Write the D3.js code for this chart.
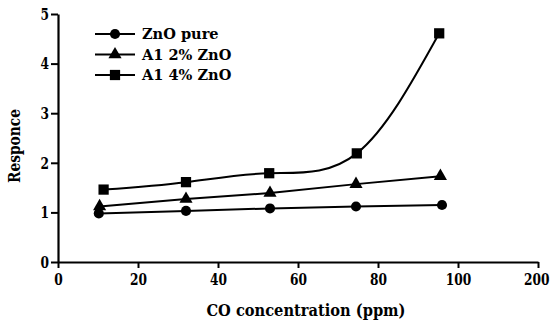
<!DOCTYPE html>
<html>
<head>
<meta charset="utf-8">
<script src="https://cdn.jsdelivr.net/npm/d3@7"></script>
<style>
  body { margin: 0; background: #fff; }
</style>
</head>
<body>
<svg id="chart" width="552" height="324"></svg>
<script>
// x positions: the last tick is labelled 200 but sits one step after 100 (broken axis)
var xTicks = [0, 20, 40, 60, 80, 100, 120];
var xTickLabels = ["0", "20", "40", "60", "80", "100", "200"];
var yTicks = [0, 1, 2, 3, 4, 5];

var seriesNames = ["ZnO pure", "A1 2% ZnO", "A1 4% ZnO"];
var concPure = [10.2, 32, 53, 74.5, 96];
var respPure = [0.98, 1.03, 1.08, 1.12, 1.15];
var concAl2 = [10.4, 32, 53, 74.5, 95.6];
var respAl2 = [1.12, 1.27, 1.39, 1.57, 1.73];
var concAl4 = [11.4, 32, 52.8, 74.7, 95.3];
var respAl4 = [1.46, 1.61, 1.79, 2.19, 4.61];

// DejaVu Serif is wider than the Times face of the original, so text gets squeezed a bit
var font = "'DejaVu Serif', serif";

function fitText(sel, ratio) {
  sel.each(function () {
    var w = this.getComputedTextLength();
    d3.select(this).attr("textLength", w * ratio).attr("lengthAdjust", "spacingAndGlyphs");
  });
}

var svg = d3.select("#chart");

var margin = { left: 58, top: 14, right: 14, bottom: 62 };
var width = 552 - margin.left - margin.right,
  height = 324 - margin.top - margin.bottom;

var x = d3.scaleLinear().domain([0, 120]).range([0, width]);
var y = d3.scaleLinear().domain([0, 5]).range([height, 0]);

var g = svg.append("g")
  .attr("transform", "translate(" + margin.left + "," + margin.top + ")");

var xAxis = g.append("g")
  .attr("transform", "translate(0," + height + ")")
  .call(d3.axisBottom(x).tickValues(xTicks)
    .tickFormat(function (d, i) { return xTickLabels[i]; })
    .tickSize(6).tickPadding(5).tickSizeOuter(0));

var yAxis = g.append("g")
  .call(d3.axisLeft(y).tickValues(yTicks).tickFormat(d3.format("d"))
    .tickSize(7).tickPadding(2).tickSizeOuter(0));

[xAxis, yAxis].forEach(function (a) {
  a.attr("font-family", font).attr("font-size", 16.5).attr("font-weight", "bold");
  a.select(".domain").attr("stroke", "#000").attr("stroke-width", 2.2);
  a.selectAll(".tick line").attr("stroke", "#000").attr("stroke-width", 2);
  a.selectAll(".tick text").attr("fill", "#000").call(fitText, 0.74);
});
// keep the last label inside the picture
xAxis.selectAll(".tick text").filter(function (d) { return d === 120; })
  .attr("text-anchor", "end").attr("x", 11);

var series = [
  { name: seriesNames[0], xs: concPure, ys: respPure, shape: d3.symbolCircle, size: 80, curve: d3.curveLinear },
  { name: seriesNames[1], xs: concAl2, ys: respAl2, shape: d3.symbolTriangle, size: 75, curve: d3.curveLinear },
  { name: seriesNames[2], xs: concAl4, ys: respAl4, shape: d3.symbolSquare, size: 105, curve: d3.curveNatural }
];

series.forEach(function (s) {
  var pts = s.xs.map(function (v, i) { return [v, s.ys[i]]; });
  var line = d3.line()
    .x(function (d) { return x(d[0]); })
    .y(function (d) { return y(d[1]); })
    .curve(s.curve);
  g.append("path")
    .datum(pts)
    .attr("d", line)
    .attr("fill", "none")
    .attr("stroke", "#000")
    .attr("stroke-width", 2);
  g.selectAll(null)
    .data(pts)
    .enter().append("path")
    .attr("d", d3.symbol().type(s.shape).size(s.size))
    .attr("transform", function (d) { return "translate(" + x(d[0]) + "," + y(d[1]) + ")"; })
    .attr("fill", "#000");
});

// legend
var legend = svg.append("g").attr("transform", "translate(95,34)");
series.forEach(function (s, i) {
  var row = legend.append("g").attr("transform", "translate(0," + (i * 20.5) + ")");
  row.append("line").attr("x1", 0).attr("x2", 40).attr("y1", 0).attr("y2", 0)
    .attr("stroke", "#000").attr("stroke-width", 2);
  row.append("path").attr("d", d3.symbol().type(s.shape).size(s.size))
    .attr("transform", "translate(20,0)").attr("fill", "#000");
  row.append("text").attr("x", 47).attr("y", 0).attr("dy", "0.36em")
    .attr("font-family", font).attr("font-weight", "bold").attr("font-size", 15)
    .text(s.name)
    .call(fitText, 0.97);
});

// axis titles
svg.append("text")
  .attr("x", 306).attr("y", 316)
  .attr("text-anchor", "middle")
  .attr("font-family", font).attr("font-weight", "bold").attr("font-size", 17)
  .text("CO concentration (ppm)")
  .call(fitText, 0.86);

svg.append("text")
  .attr("transform", "translate(20,146) rotate(-90)")
  .attr("text-anchor", "middle")
  .attr("font-family", font).attr("font-weight", "bold").attr("font-size", 16)
  .text("Responce")
  .call(fitText, 0.86);
</script>
</body>
</html>
